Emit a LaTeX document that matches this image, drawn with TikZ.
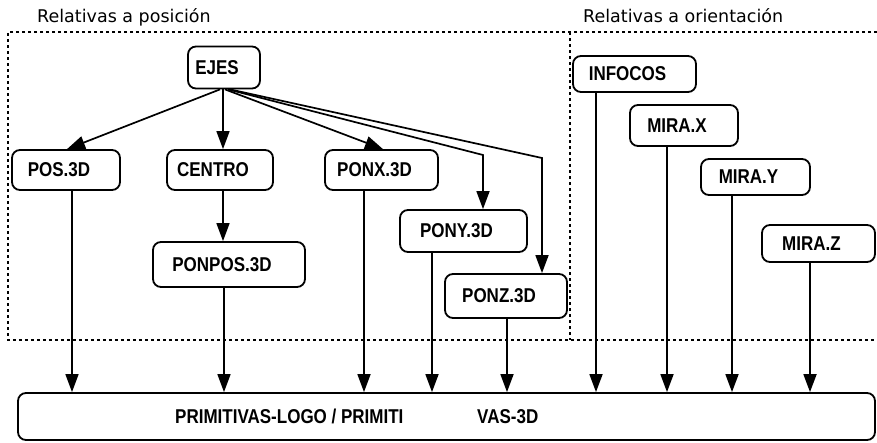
\documentclass[tikz,border=0pt]{standalone}
\usepackage{fontspec}
\setmainfont{Liberation Sans}
\newfontfamily\headfont{DejaVu Sans}
\newfontfamily\boxfont{Liberation Sans}[FakeStretch=0.85]
\usetikzlibrary{arrows.meta}

\begin{document}
\begin{tikzpicture}[x=1pt,y=-1pt,
  box/.style={draw, rounded corners=8pt, line width=1.8pt, inner sep=0pt,
    font=\boxfont\fontsize{20}{22}\selectfont\bfseries,
    execute at begin node={\hspace*{-14pt}}},
  arr/.style={line width=1.7pt, -{Triangle[length=18pt,width=13pt]}},
  fence/.style={line width=2.2pt, dash pattern=on 2.8pt off 3.2pt},
  head/.style={font=\headfont\fontsize{17.5}{20}\selectfont, inner sep=0pt}]
\useasboundingbox (0,0) rectangle (877,442);

% group frames
\coordinate (f1) at (8,32);
\coordinate (f2) at (877,32);
\coordinate (f3) at (877,340);
\coordinate (f4) at (8,340);
\coordinate (fm) at (570,32);
\coordinate (fb) at (570,340);
\draw[fence] (f2) -- (f1) -- (f4) -- (f3);
\draw[fence] (fm) -- (fb);

\node[head, anchor=base west] (t1) at (37,22) {Relativas a posición};
\node[head, anchor=base west] (t2) at (583,22) {Relativas a orientación};

% procedures
\node[box, minimum width=72pt,  minimum height=42pt] (ejes)    at (224,67.5)  {EJES};
\node[box, minimum width=108pt, minimum height=40pt] (pos)     at (66,170)    {POS.3D};
\node[box, minimum width=106pt, minimum height=40pt] (centro)  at (220,170)   {CENTRO};
\node[box, minimum width=113pt, minimum height=40pt] (ponx)    at (381.5,170) {PONX.3D};
\node[box, minimum width=152pt, minimum height=45pt] (ponpos)  at (229,264.5) {PONPOS.3D};
\node[box, minimum width=127pt, minimum height=42pt] (pony)    at (463.5,231) {PONY.3D};
\node[box, minimum width=122pt, minimum height=44pt] (ponz)    at (506,296)   {PONZ.3D};
\node[box, minimum width=123pt, minimum height=36pt] (infocos) at (634.5,74)  {INFOCOS};
\node[box, minimum width=108pt, minimum height=41pt] (mirax)   at (684,125.5) {MIRA.X};
\node[box, minimum width=109pt, minimum height=36pt] (miray)   at (755.5,177) {MIRA.Y};
\node[box, minimum width=113pt, minimum height=37pt] (miraz)   at (818.5,243.5) {MIRA.Z};
\node[box, minimum width=857pt, minimum height=47pt] (prim)    at (446.5,416.5) {};
\node[font=\boxfont\fontsize{20}{22}\selectfont\bfseries, anchor=west, inner sep=0pt] (primtxt) at (175,416.5)
  {\makebox[302pt][l]{PRIMITIVAS-LOGO / PRIMITI}VAS-3D};

% column positions of the connectors
\coordinate (ea) at (220,0);
\coordinate (eb) at (223,0);
\coordinate (ec) at (225,0);
\coordinate (ed) at (228,0);
\coordinate (ee) at (230,0);
\coordinate (xa) at (67,0);
\coordinate (xc) at (383,0);
\coordinate (ky) at (483,155);
\coordinate (kz) at (542,158);
\coordinate (vpos) at (72,0);
\coordinate (vponpos) at (224,0);
\coordinate (vponx) at (364,0);
\coordinate (vpony) at (432,0);
\coordinate (vponz) at (507,0);
\coordinate (vinf) at (596,0);
\coordinate (vmx) at (667,0);
\coordinate (vmy) at (732,0);
\coordinate (vmz) at (810,0);

% EJES calls
\draw[arr] (ejes.south -| ea) -- (pos.north -| xa);
\draw[arr] (ejes.south -| eb) -- (centro.north -| eb);
\draw[arr] (ejes.south -| ec) -- (ponx.north -| xc);
\draw[arr] (ejes.south -| ed) -- (ky) -- (pony.north -| ky);
\draw[arr] (ejes.south -| ee) -- (kz) -- (ponz.north -| kz);
\draw[arr] (centro.south -| eb) -- (ponpos.north -| eb);

% everything leads to the primitives
\draw[arr] (pos.south -| vpos) -- (prim.north -| vpos);
\draw[arr] (ponpos.south -| vponpos) -- (prim.north -| vponpos);
\draw[arr] (ponx.south -| vponx) -- (prim.north -| vponx);
\draw[arr] (pony.south -| vpony) -- (prim.north -| vpony);
\draw[arr] (ponz.south -| vponz) -- (prim.north -| vponz);
\draw[arr] (infocos.south -| vinf) -- (prim.north -| vinf);
\draw[arr] (mirax.south -| vmx) -- (prim.north -| vmx);
\draw[arr] (miray.south -| vmy) -- (prim.north -| vmy);
\draw[arr] (miraz.south -| vmz) -- (prim.north -| vmz);
\end{tikzpicture}
\end{document}
